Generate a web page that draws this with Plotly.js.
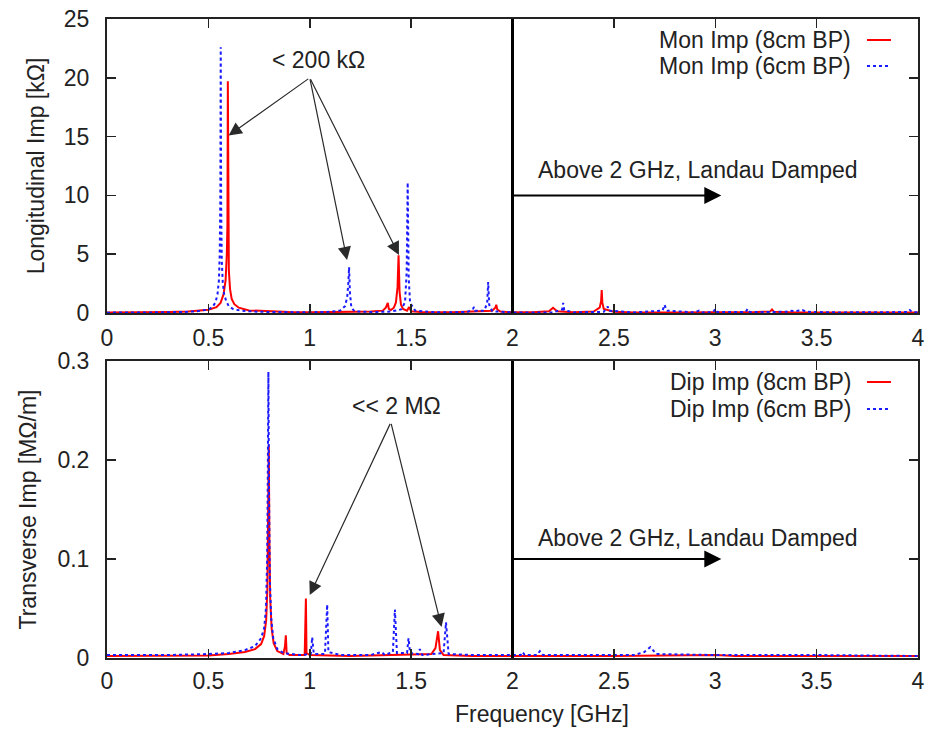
<!DOCTYPE html>
<html>
<head>
<meta charset="utf-8">
<script src="https://cdn.plot.ly/plotly-3.0.1.min.js"></script>
<style>html,body{margin:0;padding:0;background:#fff;}</style>
</head>
<body>
<div id="chart" style="width:927px;height:733px;"></div>
<script>
// ---- data: [frequency GHz, impedance] pairs ----
const monImp8cm = [[0,0.05],[0.1,0.05],[0.2,0.05],[0.3,0.08],[0.4,0.12],[0.45,0.18],[0.5,0.28],[0.54,0.5],[0.56,0.85],[0.575,1.6],[0.585,2.8],[0.591,5.0],[0.594,7.5],[0.596,19.7],[0.598,7.0],[0.601,3.6],[0.607,2.0],[0.615,1.2],[0.628,0.75],[0.65,0.45],[0.7,0.22],[0.8,0.12],[0.9,0.08],[1.0,0.06],[1.1,0.06],[1.2,0.08],[1.3,0.12],[1.36,0.2],[1.375,0.45],[1.385,0.85],[1.39,0.35],[1.4,0.25],[1.415,0.45],[1.425,0.9],[1.433,2.2],[1.438,4.9],[1.443,1.8],[1.45,0.7],[1.46,0.35],[1.48,0.2],[1.49,0.5],[1.5,0.15],[1.55,0.08],[1.7,0.06],[1.85,0.12],[1.9,0.2],[1.915,0.45],[1.92,0.7],[1.925,0.3],[1.94,0.12],[2.0,0.06],[2.1,0.06],[2.18,0.15],[2.2,0.45],[2.22,0.15],[2.3,0.06],[2.4,0.12],[2.43,0.45],[2.437,1.0],[2.44,1.95],[2.443,0.9],[2.45,0.35],[2.5,0.1],[2.6,0.05],[2.8,0.05],[3.0,0.05],[3.2,0.08],[3.27,0.12],[3.28,0.3],[3.29,0.1],[3.4,0.05],[3.6,0.05],[3.8,0.05],[4.0,0.05]];
const monImp6cm = [[0,0.03],[0.1,0.03],[0.2,0.04],[0.3,0.06],[0.4,0.1],[0.45,0.16],[0.5,0.3],[0.52,0.5],[0.535,0.9],[0.545,1.6],[0.552,2.8],[0.556,5.0],[0.559,10.0],[0.561,22.6],[0.563,9.0],[0.566,4.5],[0.571,2.6],[0.578,1.6],[0.588,1.0],[0.6,0.6],[0.62,0.35],[0.66,0.2],[0.75,0.1],[0.9,0.06],[1.0,0.06],[1.1,0.1],[1.15,0.2],[1.175,0.6],[1.185,1.4],[1.19,2.5],[1.194,3.9],[1.198,1.8],[1.205,0.5],[1.22,0.15],[1.3,0.08],[1.4,0.12],[1.45,0.3],[1.47,0.9],[1.478,3.5],[1.483,11.1],[1.488,3.0],[1.495,0.8],[1.5,0.7],[1.505,0.6],[1.52,0.2],[1.6,0.08],[1.7,0.06],[1.78,0.1],[1.805,0.35],[1.81,0.5],[1.815,0.2],[1.86,0.2],[1.875,0.8],[1.88,2.64],[1.885,0.7],[1.9,0.15],[2.0,0.05],[2.2,0.05],[2.245,0.3],[2.25,0.85],[2.255,0.25],[2.3,0.05],[2.45,0.1],[2.465,0.4],[2.47,0.55],[2.475,0.2],[2.6,0.05],[2.74,0.2],[2.75,0.7],[2.76,0.2],[2.9,0.05],[2.92,0.2],[2.93,0.05],[2.99,0.08],[3.0,0.35],[3.01,0.08],[3.15,0.08],[3.16,0.35],[3.17,0.08],[3.35,0.1],[3.37,0.2],[3.39,0.15],[3.41,0.2],[3.43,0.25],[3.45,0.1],[3.6,0.05],[3.95,0.08],[3.96,0.25],[3.97,0.08],[4.0,0.05]];
const dipImp8cm = [[0,0.002],[0.3,0.002],[0.5,0.0025],[0.6,0.004],[0.68,0.006],[0.73,0.009],[0.76,0.014],[0.775,0.022],[0.785,0.038],[0.791,0.07],[0.795,0.13],[0.798,0.215],[0.801,0.12],[0.805,0.06],[0.812,0.03],[0.822,0.015],[0.84,0.007],[0.87,0.004],[0.878,0.012],[0.882,0.023],[0.886,0.005],[0.9,0.003],[0.975,0.003],[0.978,0.03],[0.981,0.06],[0.984,0.005],[1.0,0.003],[1.2,0.002],[1.4,0.003],[1.55,0.003],[1.6,0.004],[1.62,0.01],[1.633,0.027],[1.642,0.008],[1.66,0.003],[1.8,0.002],[2.0,0.002],[2.5,0.002],[3.0,0.003],[3.1,0.002],[3.5,0.002],[4.0,0.002]];
const dipImp6cm = [[0,0.003],[0.3,0.003],[0.5,0.004],[0.6,0.005],[0.68,0.008],[0.73,0.012],[0.76,0.02],[0.775,0.03],[0.784,0.05],[0.79,0.1],[0.793,0.18],[0.796,0.289],[0.799,0.17],[0.803,0.08],[0.81,0.04],[0.82,0.02],[0.84,0.009],[0.87,0.005],[0.95,0.003],[1.005,0.004],[1.012,0.021],[1.02,0.004],[1.075,0.004],[1.082,0.03],[1.086,0.054],[1.092,0.006],[1.15,0.003],[1.3,0.003],[1.355,0.006],[1.37,0.003],[1.41,0.006],[1.42,0.049],[1.43,0.005],[1.48,0.005],[1.487,0.02],[1.495,0.005],[1.535,0.004],[1.543,0.009],[1.555,0.003],[1.66,0.005],[1.672,0.036],[1.685,0.004],[1.8,0.003],[2.0,0.003],[2.04,0.003],[2.05,0.006],[2.06,0.003],[2.12,0.003],[2.135,0.007],[2.15,0.003],[2.6,0.003],[2.65,0.006],[2.68,0.011],[2.71,0.004],[3.0,0.003],[3.5,0.003],[3.9,0.002],[4.0,0.002]];

const seriesNames = ['Mon Imp (8cm BP)', 'Mon Imp (6cm BP)', 'Dip Imp (8cm BP)', 'Dip Imp (6cm BP)'];
const axisTitles = {top: 'Longitudinal Imp [kΩ]', bottom: 'Transverse Imp [MΩ/m]', x: 'Frequency [GHz]'};
const notes = {top: '< 200 kΩ', bottom: '<< 2 MΩ', damped: 'Above 2 GHz, Landau Damped'};

const RED = '#ff0000', BLUE = '#1a1aff', INK = '#222';
const FONT = 'Liberation Sans, Arial, Helvetica, sans-serif';

function trace(pairs, name, color, dash, xa, ya) {
  return {x: pairs.map(p => p[0]), y: pairs.map(p => p[1]), name: name, type: 'scatter', mode: 'lines',
    line: {color: color, width: 2, dash: dash}, xaxis: xa, yaxis: ya, showlegend: false, hoverinfo: 'skip'};
}
const data = [
  trace(monImp8cm, seriesNames[0], RED, 'solid', 'x', 'y'),
  trace(monImp6cm, seriesNames[1], BLUE, 'dot', 'x', 'y'),
  trace(dipImp8cm, seriesNames[2], RED, 'solid', 'x2', 'y2'),
  trace(dipImp6cm, seriesNames[3], BLUE, 'dot', 'x2', 'y2')
];

const axBase = {showgrid: false, zeroline: false, showline: true, linewidth: 2, linecolor: INK,
  mirror: 'allticks', ticks: 'inside', ticklen: 9, tickwidth: 1.5, tickcolor: INK, automargin: false,
  tickfont: {family: FONT, size: 23, color: INK}};
const xDom = [107/927, 918/927];

const arrowBase = {showarrow: true, text: '', axref: 'x', ayref: 'y', arrowhead: 2, arrowsize: 2.2, arrowwidth: 1.2, arrowcolor: '#2a2a2a', standoff: 0};

const layout = {
  width: 927, height: 733, margin: {l: 0, r: 0, t: 0, b: 0},
  paper_bgcolor: '#fff', plot_bgcolor: '#fff', showlegend: false,
  font: {family: FONT, size: 23, color: INK},
  xaxis: Object.assign({}, axBase, {domain: xDom, range: [0, 4], dtick: 0.5, tick0: 0, anchor: 'y', ticklabelstandoff: 3}),
  yaxis: Object.assign({}, axBase, {domain: [1 - 313/733, 1 - 19/733], range: [0, 25], dtick: 5, tick0: 0, anchor: 'x', ticklabelstandoff: 11,
    title: {text: axisTitles.top, font: {family: FONT, size: 23, color: INK}, standoff: 13}}),
  xaxis2: Object.assign({}, axBase, {domain: xDom, range: [0, 4], dtick: 0.5, tick0: 0, anchor: 'y2', ticklabelstandoff: 1}),
  yaxis2: Object.assign({}, axBase, {domain: [1 - 658/733, 1 - 361/733], range: [0, 0.3], dtick: 0.1, tick0: 0, anchor: 'x2', ticklabelstandoff: 11,
    title: {text: axisTitles.bottom, font: {family: FONT, size: 23, color: INK}, standoff: 14}}),
  shapes: [
    {type: 'line', xref: 'x', yref: 'y domain', x0: 2, x1: 2, y0: 0, y1: 1, line: {color: '#000', width: 3}},
    {type: 'line', xref: 'x2', yref: 'y2 domain', x0: 2, x1: 2, y0: 0, y1: 1, line: {color: '#000', width: 3}},
    // legend samples
    {type: 'line', xref: 'paper', yref: 'paper', x0: 867/927, x1: 891/927, y0: 1 - 40/733, y1: 1 - 40/733, line: {color: RED, width: 2}},
    {type: 'line', xref: 'paper', yref: 'paper', x0: 867/927, x1: 891/927, y0: 1 - 66/733, y1: 1 - 66/733, line: {color: BLUE, width: 2, dash: 'dot'}},
    {type: 'line', xref: 'paper', yref: 'paper', x0: 867/927, x1: 891/927, y0: 1 - 382/733, y1: 1 - 382/733, line: {color: RED, width: 2}},
    {type: 'line', xref: 'paper', yref: 'paper', x0: 867/927, x1: 891/927, y0: 1 - 409/733, y1: 1 - 409/733, line: {color: BLUE, width: 2, dash: 'dot'}}
  ],
  annotations: [
    // legend texts
    {xref: 'paper', yref: 'paper', x: 853/927, y: 1 - 40/733, xanchor: 'right', yanchor: 'middle', text: seriesNames[0], showarrow: false},
    {xref: 'paper', yref: 'paper', x: 853/927, y: 1 - 66/733, xanchor: 'right', yanchor: 'middle', text: seriesNames[1], showarrow: false},
    {xref: 'paper', yref: 'paper', x: 853/927, y: 1 - 382/733, xanchor: 'right', yanchor: 'middle', text: seriesNames[2], showarrow: false},
    {xref: 'paper', yref: 'paper', x: 853/927, y: 1 - 409/733, xanchor: 'right', yanchor: 'middle', text: seriesNames[3], showarrow: false},
    // x axis title
    {xref: 'paper', yref: 'paper', x: 542/927, y: 1 - 714/733, xanchor: 'center', yanchor: 'middle', text: axisTitles.x, showarrow: false},
    // top panel notes
    {xref: 'x', yref: 'y', x: 1.041, y: 21.5, text: notes.top, showarrow: false},
    Object.assign({}, arrowBase, {xref: 'x', yref: 'y', x: 0.60, y: 15.1, ax: 1.0, ay: 20.0}),
    Object.assign({}, arrowBase, {xref: 'x', yref: 'y', x: 1.184, y: 4.5, ax: 1.0, ay: 20.0}),
    Object.assign({}, arrowBase, {xref: 'x', yref: 'y', x: 1.44, y: 4.93, ax: 1.0, ay: 20.0}),
    {xref: 'x', yref: 'y', x: 2.915, y: 12.2, text: notes.damped, showarrow: false},
    {xref: 'x', yref: 'y', x: 3.03, y: 10, ax: 2, ay: 10, axref: 'x', ayref: 'y', text: '', showarrow: true, arrowhead: 2, arrowsize: 1.7, arrowwidth: 2, arrowcolor: '#000', standoff: 0},
    // bottom panel notes
    {xref: 'x2', yref: 'y2', x: 1.43, y: 0.255, text: notes.bottom, showarrow: false},
    Object.assign({}, arrowBase, {xref: 'x2', yref: 'y2', axref: 'x2', ayref: 'y2', x: 1.0, y: 0.0636, ax: 1.40, ay: 0.238}),
    Object.assign({}, arrowBase, {xref: 'x2', yref: 'y2', axref: 'x2', ayref: 'y2', x: 1.65, y: 0.0313, ax: 1.40, ay: 0.238}),
    {xref: 'x2', yref: 'y2', x: 2.915, y: 0.121, text: notes.damped, showarrow: false},
    {xref: 'x2', yref: 'y2', x: 3.03, y: 0.1, ax: 2, ay: 0.1, axref: 'x2', ayref: 'y2', text: '', showarrow: true, arrowhead: 2, arrowsize: 1.7, arrowwidth: 2, arrowcolor: '#000', standoff: 0}
  ]
};

Plotly.newPlot('chart', data, layout, {staticPlot: true, displayModeBar: false});
</script>
</body>
</html>
